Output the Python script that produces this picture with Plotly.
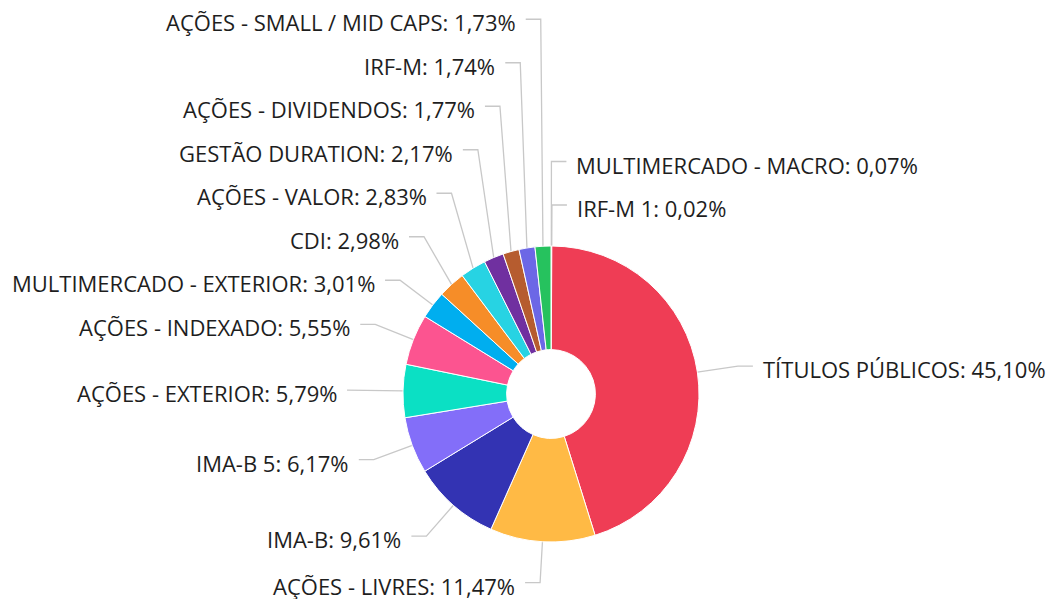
import numpy as np
import plotly.graph_objects as go

# ---- data ----
labels = [
    "MULTIMERCADO - MACRO", "IRF-M 1", "TÍTULOS PÚBLICOS", "AÇÕES - LIVRES",
    "IMA-B", "IMA-B 5", "AÇÕES - EXTERIOR", "AÇÕES - INDEXADO",
    "MULTIMERCADO - EXTERIOR", "CDI", "AÇÕES - VALOR", "GESTÃO DURATION",
    "AÇÕES - DIVIDENDOS", "IRF-M", "AÇÕES - SMALL / MID CAPS",
]
values = [0.07, 0.02, 45.10, 11.47, 9.61, 6.17, 5.79, 5.55, 3.01, 2.98, 2.83, 2.17, 1.77, 1.74, 1.73]
colors = [
    "#9B9B9B", "#F5D33F", "#EF3D55", "#FFBA45", "#3333B3", "#836EF9", "#0BE0C4",
    "#FC5490", "#00AEEF", "#F68D28", "#27D3E3", "#7030A0", "#B65C2F", "#6C67E6", "#26C25E",
]

# ---- layout constants (pixels) ----
W, H = 1048, 599
CX, CY, R = 551, 394, 148
HOLE = 0.30
LEN1, LEN2, DIST, GAP = 41, 15, 8, 43.5
FONT = dict(family="Open Sans", size=22, color="#1E1E1E")
LINE_COLOR = "#C8C8C8"

vals = np.array(values, dtype=float)
cum = np.concatenate([[0], np.cumsum(vals)])
mid = (cum[:-1] + cum[1:]) / 2 / vals.sum() * 2 * np.pi  # clockwise from 12 o'clock
sx = CX + R * np.sin(mid)
sy = CY - R * np.cos(mid)
bx = CX + (R + LEN1) * np.sin(mid)
by = CY - (R + LEN1) * np.cos(mid)
side = np.where(np.sin(mid) >= 0, 1, -1)

# resolve label overlaps per side (push upward from the bottom)
ly = by.copy()
for s in (1, -1):
    idx = [i for i in np.argsort(by) if side[i] == s]
    for k in range(len(idx) - 2, -1, -1):
        ly[idx[k]] = min(by[idx[k]], ly[idx[k + 1]] - GAP)

fig = go.Figure()

fig.add_trace(go.Pie(
    labels=labels, values=values, sort=False, direction="clockwise", rotation=0,
    hole=HOLE, textinfo="none", hoverinfo="label+percent",
    marker=dict(colors=colors, line=dict(color="white", width=1)),
    domain=dict(x=[(CX - R) / W, (CX + R) / W], y=[1 - (CY + R) / H, 1 - (CY - R) / H]),
    showlegend=False,
))

lx, lyy = [], []
for i in range(len(values)):
    lx += [sx[i], bx[i], bx[i] + side[i] * LEN2, None]
    lyy += [sy[i], ly[i], ly[i], None]
fig.add_trace(go.Scatter(x=lx, y=lyy, mode="lines", line=dict(color=LINE_COLOR, width=1.3),
                         hoverinfo="skip", showlegend=False))

annotations = []
for i, (lab, v) in enumerate(zip(labels, values)):
    txt = f"{lab}: {v:.2f}".replace(".", ",") + "%"
    annotations.append(dict(
        x=bx[i] + side[i] * (LEN2 + DIST), y=ly[i] + 3, xref="x", yref="y",
        text=txt, showarrow=False, font=FONT,
        xanchor="left" if side[i] > 0 else "right", yanchor="middle",
    ))

fig.update_layout(
    width=W, height=H, margin=dict(l=0, r=0, t=0, b=0),
    paper_bgcolor="white", plot_bgcolor="white",
    xaxis=dict(range=[0, W], visible=False, fixedrange=True),
    yaxis=dict(range=[H, 0], visible=False, fixedrange=True),
    annotations=annotations,
)

fig.write_html("out.html", config={"displayModeBar": False},
               post_script="document.body.style.margin='0';")
